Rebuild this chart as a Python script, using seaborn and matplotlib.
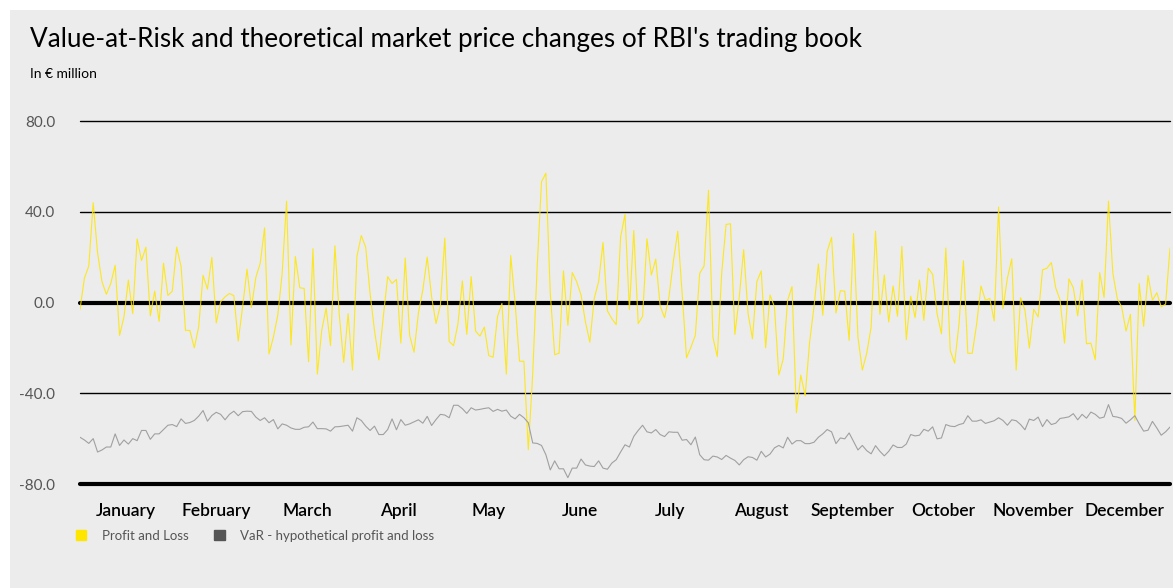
import numpy as np
import pandas as pd
import matplotlib
matplotlib.use("Agg")
import matplotlib.pyplot as plt
import matplotlib.patches as mpatches
import seaborn as sns

# 数据 (daily values, EUR million)
profit_loss = [
    -3.1, 10.7, 16.1, 44.0, 21.8, 9.2, 3.6, 8.4, 16.4, -14.5, -6.4, 9.9, -4.9, 28.0, 18.5, 24.4, -5.9, 5.0,
    -8.3, 17.3, 3.1, 5.0, 24.4, 15.9, -12.3, -12.3, -20.0, -10.8, 12.0, 5.9, 19.9, -9.0, 0.3, 2.5, 4.0, 3.0,
    -17.0, -1.9, 14.7, -2.2, 11.0, 17.3, 32.9,
    -22.7, -15.3, -5.6, 12.9, 44.7, -18.7, 20.3, 6.5, 6.2, -26.1, 23.7, -31.6, -12.3, -2.4, -19.0, 25.0,
    -5.6, -26.4, -4.9, -29.8, 20.3, 29.5, 24.4, 4.0, -12.3, -25.3, -6.4, 11.4, 8.4, 10.2, -17.9, 19.6,
    -14.5, -21.9, -4.6, 5.5, 20.0, 2.5, -9.3, -1.2, 28.4,
    -17.2, -19.0, -9.3, 9.5, -14.1, 11.4, -12.6, -14.8, -10.8, -23.4, -24.1, -6.1, -0.4, -31.6, 20.7,
    -0.4, -25.9, -25.9, -64.9, -31.6, 15.1, 53.2, 57.0, 4.0, -23.0, -22.4, 13.9, -10.1, 13.2, 9.2, 3.3,
    -8.6, -17.5, 1.8, 9.2, 26.5, -3.7, -7.1, -9.8, 28.9, 38.8,
    -3.1, 31.7, -9.3, -6.1, 28.1, 12.1, 19.1, -1.6, -6.7, 2.5, 18.1, 31.4, 4.0, -24.4, -19.7, -14.5, 12.9,
    16.1, 49.5, -15.3, -23.9, 12.9, 34.4, 34.7, -14.1, 2.5, 23.3, -4.9, -16.0, 9.2, 13.9, -20.0, 3.3,
    -1.9, -32.0, -24.9, 1.0, 7.0, -48.6, -32.0, -41.2,
    -17.5, -1.9, 17.0, -5.6, 22.5, 28.7, -4.6, 5.2, 5.0, -16.7, 30.4, -15.3, -29.8, -22.4, -10.8, 31.4,
    -5.2, 12.1, -8.6, 7.3, -6.1, 24.7, -16.4, 2.8, -6.7, 9.9, -7.9, 15.1, 12.4, -4.9, -13.8, 24.0, -21.2,
    -26.7, -9.3, 18.4, -22.4, -22.4, -9.6, 7.3, 1.0,
    1.8, -8.1, 42.1, -2.7, 10.7, 19.3, -29.8, 2.1, -3.4, -20.1, -3.0, -6.4, 14.4, 15.1, 17.6, 6.5, 1.0,
    -17.9, 10.4, 6.5, -5.9, 9.9, -18.2, -17.9, -25.2, 13.2, 2.2, 44.7, 12.9, 1.8, -1.9, -12.6, -5.2,
    -52.0, 8.4, -10.5, 11.9, 1.0, 4.3, -1.9, -0.7, 24.0,
]

var_hypo = [
    -59.4, -60.6, -62.1, -60.0, -65.9, -65.0, -63.7, -63.7, -57.9, -63.0, -60.6, -62.4, -60.0, -60.9,
    -56.4, -56.4, -60.3, -57.9, -57.9, -56.0, -54.1, -53.8, -54.7, -51.3, -53.3, -52.9, -52.0, -50.1,
    -47.6, -52.3, -49.8, -48.4, -49.3, -51.7, -49.3, -47.9, -49.9, -48.1, -47.9, -48.0, -50.5, -52.0, -50.8,
    -53.0, -51.6, -55.7, -53.5, -54.1, -55.3, -55.9, -55.9, -55.0, -54.8, -52.7, -55.6, -55.6, -55.7,
    -56.7, -54.8, -54.7, -54.4, -54.1, -56.7, -50.8, -52.0, -54.5, -56.4, -54.5, -58.2, -58.2, -56.0,
    -51.3, -56.1, -51.6, -54.1, -53.5, -52.6, -51.7, -53.2, -50.2, -54.2, -51.6, -49.3, -49.6,
    -50.8, -45.3, -45.3, -46.8, -48.9, -46.4, -47.4, -47.1, -46.7, -46.4, -48.0, -47.1, -47.9, -47.4,
    -50.1, -51.3, -49.3, -50.8, -53.0, -61.9, -62.1, -63.0, -67.1, -73.8, -69.8, -73.3, -73.3, -77.2,
    -73.0, -73.0, -69.0, -71.6, -72.1, -72.3, -69.8, -73.0, -73.5, -70.8, -69.3, -65.9, -62.7,
    -63.7, -59.0, -56.4, -54.1, -57.0, -57.5, -56.0, -58.2, -59.1, -57.0, -57.2, -57.2, -60.7, -60.4,
    -62.7, -59.3, -67.1, -69.3, -69.5, -67.7, -68.1, -69.2, -67.4, -68.6, -69.6, -71.6, -69.3, -68.0,
    -68.3, -69.5, -65.6, -68.1, -66.8, -64.1, -63.0, -64.1, -59.4, -62.4, -60.9, -60.9, -62.2,
    -62.2, -61.6, -59.4, -57.9, -56.0, -57.0, -62.2, -59.7, -60.1, -57.5, -61.2, -65.0, -63.0, -65.3,
    -66.7, -63.1, -65.6, -67.6, -65.6, -62.8, -63.9, -63.9, -62.4, -58.2, -58.8, -58.5, -55.9, -56.7,
    -54.8, -60.1, -59.7, -53.8, -54.5, -54.7, -53.8, -53.3, -49.9, -52.3, -52.3, -51.7, -53.3,
    -52.7, -52.1, -50.8, -52.0, -54.1, -51.7, -52.1, -53.8, -56.1, -51.4, -52.0, -50.5, -54.7, -51.6,
    -53.8, -53.2, -51.1, -50.8, -50.4, -49.0, -51.7, -49.3, -51.0, -48.3, -49.3, -51.0, -50.5, -45.0,
    -50.2, -50.5, -51.1, -53.2, -51.7, -49.9, -53.5, -56.7, -56.3, -52.4, -55.3, -58.5, -57.0, -54.9,
]

months = ["January", "February", "March", "April", "May", "June", "July",
          "August", "September", "October", "November", "December"]
y_ticks = [80, 40, 0, -40, -80]

df = pd.DataFrame({
    "day": np.arange(len(profit_loss)),
    "Profit and Loss": profit_loss,
    "VaR - hypothetical profit and loss": var_hypo,
})

# 图表风格
sns.set_style("white")
plt.rcParams["font.family"] = ["Lato", "DejaVu Sans"]

bg = "#ececec"
yellow = "#ffe600"
grey_line = "#a0a0a0"

fig = plt.figure(figsize=(11.73, 5.88), dpi=100, facecolor="white")
fig.patches.append(mpatches.Rectangle((10 / 1173, 0), 1, 1 - 10 / 588, transform=fig.transFigure,
                                      facecolor=bg, edgecolor="none", zorder=-10))

ax = fig.add_axes([80 / 1173, 1 - 484 / 588, 1090 / 1173, (484 - 121) / 588])
ax.set_facecolor(bg)
ax.patch.set_alpha(0)

sns.lineplot(data=df, x="day", y="Profit and Loss", color=yellow, lw=0.8, alpha=0.85, ax=ax, zorder=3)
sns.lineplot(data=df, x="day", y="VaR - hypothetical profit and loss", color=grey_line, lw=0.8,
             ax=ax, zorder=3)

n = len(profit_loss) - 1
ax.set_xlim(0, n)
ax.set_ylim(-80, 80)

# 网格线
for v in y_ticks:
    thick = v in (0, -80)
    ax.axhline(v, color="black", lw=3 if thick else 1, zorder=2, clip_on=False)

for s in ax.spines.values():
    s.set_visible(False)

ax.set_yticks(y_ticks)
ax.set_yticklabels([f"{v:.1f}" for v in y_ticks], fontsize=11, color="#555555")
ax.tick_params(axis="y", length=0, pad=18)

ax.set_xticks([(i + 0.5) * n / 12 for i in range(12)])
ax.set_xticklabels(months, fontsize=12.5, color="black", fontweight="semibold")
ax.tick_params(axis="x", length=0, pad=14)
ax.set_xlabel("")
ax.set_ylabel("")

fig.text(30 / 1173, 1 - 39 / 588, "Value-at-Risk and theoretical market price changes of RBI's trading book",
         fontsize=18.8, va="center", ha="left", color="black")
fig.text(30 / 1173, 1 - 74 / 588, "In € million", fontsize=10, va="center", ha="left", color="black")

handles = [mpatches.Patch(color=yellow, label="Profit and Loss"),
           mpatches.Patch(color="#555555", label="VaR - hypothetical profit and loss")]
fig.legend(handles=handles, loc="center left", bbox_to_anchor=(64 / 1173, 1 - 536 / 588), ncol=2,
           frameon=False, handlelength=0.8, handleheight=0.8, handletextpad=1.2, columnspacing=1.9,
           labelcolor="#555555", prop={"size": 9.5})

plt.savefig("out.png", dpi=100, facecolor=fig.get_facecolor())
